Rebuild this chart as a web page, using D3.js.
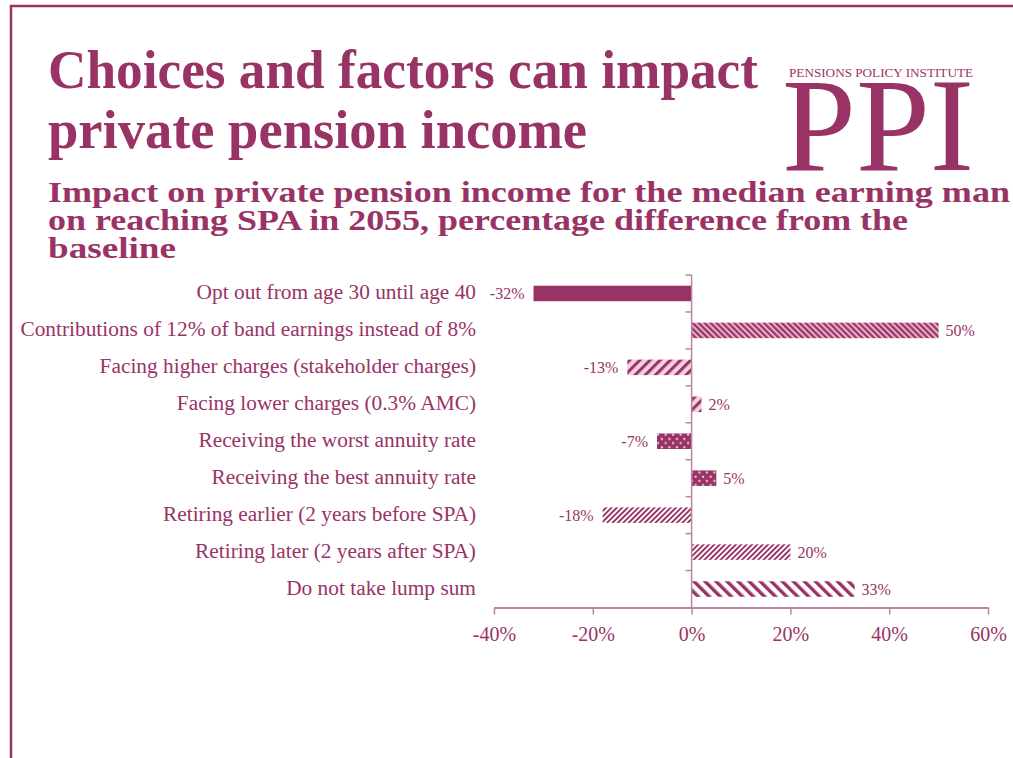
<!DOCTYPE html>
<html><head><meta charset="utf-8">
<script src="https://cdn.jsdelivr.net/npm/d3@7"></script>
<style>
html,body{margin:0;padding:0;background:#fff;}
svg{display:block;}
text{font-family:"Palatino Linotype","Book Antiqua",Palatino,"Liberation Serif",serif;}
</style></head>
<body>
<svg id="chart" width="1013" height="758"></svg>
<script>
const titleLines = ["Choices and factors can impact", "private pension income"];
const subtitleLines = ["Impact on private pension income for the median earning man",
  "on reaching SPA in 2055, percentage difference from the", "baseline"];
const logoSmall = "PENSIONS POLICY INSTITUTE";
const logoBig = "PPI";
const categories = [
  "Opt out from age 30 until age 40",
  "Contributions of 12% of band earnings instead of 8%",
  "Facing higher charges (stakeholder charges)",
  "Facing lower charges (0.3% AMC)",
  "Receiving the worst annuity rate",
  "Receiving the best annuity rate",
  "Retiring earlier (2 years before SPA)",
  "Retiring later (2 years after SPA)",
  "Do not take lump sum"
];
const values = [-32, 50, -13, 2, -7, 5, -18, 20, 33];
const xTicks = [-40, -20, 0, 20, 40, 60];

const MAIN = "#993366";
const AXIS = "#b9859f";
const barFills = ["solid","fineBack","wideFwdPink","wideFwdPink","dots","dots","fineFwd","fineFwd","wideBack"];

const svg = d3.select("#chart");
svg.append("rect").attr("width",1013).attr("height",758).attr("fill","#fff");

// patterns
const defs = svg.append("defs");
function stripes(id, period, dark, bg, angle){
  const p = defs.append("pattern").attr("id", id).attr("patternUnits","userSpaceOnUse")
    .attr("width", period).attr("height", period)
    .attr("patternTransform", `rotate(${angle})`);
  p.append("rect").attr("width", period).attr("height", period).attr("fill", bg);
  p.append("rect").attr("width", dark).attr("height", period).attr("fill", MAIN);
}
stripes("fineBack", 4.2, 2.2, "#e7b3cb", -45);
stripes("wideFwdPink", 7.2, 3.0, "#f3cfdf", 45);
stripes("fineFwd", 3.8, 1.9, "#ffffff", 45);
stripes("wideBack", 7.8, 3.4, "#ffffff", -45);
const dp = defs.append("pattern").attr("id","dots").attr("patternUnits","userSpaceOnUse")
  .attr("width", 7.5).attr("height", 8.4);
dp.append("rect").attr("width",7.5).attr("height",8.4).attr("fill", MAIN);
dp.append("circle").attr("cx",1.9).attr("cy",2.1).attr("r",1.1).attr("fill","#f2c9dc");
dp.append("circle").attr("cx",5.65).attr("cy",6.3).attr("r",1.1).attr("fill","#f2c9dc");

// frame
svg.append("path").attr("d","M11,758V6H1013").attr("fill","none").attr("stroke",MAIN).attr("stroke-width",2.5);

function fit(sel, w){
  sel.attr("textLength", w).attr("lengthAdjust","spacingAndGlyphs");
}

// titles
const titleY = [88, 148], titleW = [710, 539];
titleLines.forEach((t,i)=>{
  svg.append("text").attr("x",48).attr("y",titleY[i]).attr("fill",MAIN)
    .attr("font-weight","bold").attr("font-size",54).text(t).call(fit, titleW[i]);
});
const subY = [202, 230, 258], subW = [962, 860, 128];
subtitleLines.forEach((t,i)=>{
  svg.append("text").attr("x",48).attr("y",subY[i]).attr("fill",MAIN)
    .attr("font-weight","bold").attr("font-size",30).text(t).call(fit, subW[i]);
});
// logo
svg.append("text").attr("x",789).attr("y",77).attr("fill",MAIN).attr("font-size",11.5)
  .text(logoSmall).call(fit, 184);
svg.append("text").attr("x",782).attr("y",170).attr("fill",MAIN).attr("font-size",134)
  .text(logoBig).call(fit, 192);

// scales
const x = d3.scaleLinear().domain([-40, 60]).range([494, 988]);
const y = d3.scaleBand().domain(categories).range([275, 607.5]).paddingInner(0.58).paddingOuter(0.29);

// bars
const g = svg.append("g");
g.selectAll("rect.bar").data(values).join("rect").attr("class","bar")
  .attr("x", d => x(Math.min(0,d)))
  .attr("width", d => Math.abs(x(d)-x(0)))
  .attr("y", (d,i) => y(categories[i]))
  .attr("height", y.bandwidth())
  .attr("fill", (d,i) => barFills[i]==="solid" ? MAIN : `url(#${barFills[i]})`);

// value labels
g.selectAll("text.val").data(values).join("text").attr("class","val")
  .attr("x", d => d < 0 ? x(d) - 9 : x(d) + 7)
  .attr("y", (d,i) => y(categories[i]) + y.bandwidth()/2 + 5.5)
  .attr("text-anchor", d => d < 0 ? "end" : "start")
  .attr("font-size", 16).attr("fill", MAIN)
  .text(d => d + "%");

// category axis
const step = y.step();
const yAxisG = svg.append("g");
yAxisG.append("line").attr("x1",x(0)).attr("x2",x(0)).attr("y1",275).attr("y2",607.5)
  .attr("stroke",AXIS).attr("stroke-width",1.5);
d3.range(categories.length).forEach(i=>{
  const yy = 275 + i*step;
  yAxisG.append("line").attr("x1",x(0)-6).attr("x2",x(0)).attr("y1",yy).attr("y2",yy)
    .attr("stroke",AXIS).attr("stroke-width",1.5);
});
// category labels
const cl = svg.append("g").selectAll("text").data(categories).join("text")
  .attr("x", 476).attr("y", d => y(d) + y.bandwidth()/2 + 6)
  .attr("text-anchor","end").attr("fill",MAIN).attr("font-size",18).text(d=>d);
let maxW = 0; cl.each(function(){ maxW = Math.max(maxW, this.getComputedTextLength()); });
cl.attr("font-size", 18 * 456 / maxW);

// x axis
const xAxis = d3.axisBottom(x).tickValues(xTicks).tickFormat(d => d + "%").tickSizeInner(7).tickSizeOuter(0).tickPadding(12);
const xa = svg.append("g").attr("transform","translate(0,607.5)").call(xAxis);
xa.select(".domain").attr("stroke",AXIS).attr("stroke-width",2.2);
xa.selectAll(".tick line").attr("stroke",AXIS).attr("stroke-width",1.5);
xa.selectAll(".tick text").attr("fill",MAIN).attr("font-size",20)
  .attr("font-family",'"Palatino Linotype","Book Antiqua",Palatino,"Liberation Serif",serif');
</script>
</body></html>
